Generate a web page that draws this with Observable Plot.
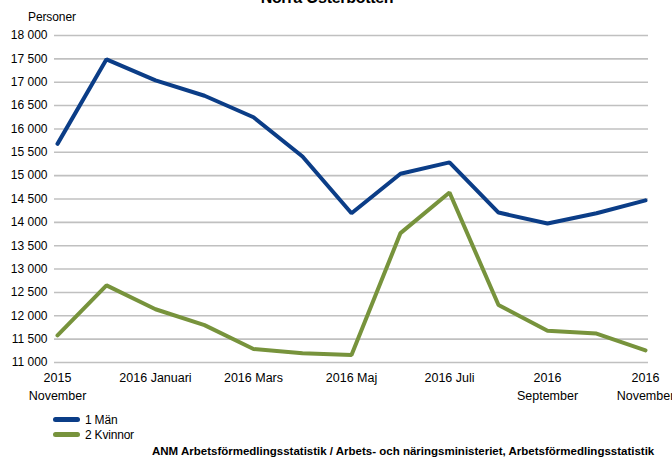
<!DOCTYPE html>
<html>
<head>
<meta charset="utf-8">
<script src="https://cdn.jsdelivr.net/npm/d3@7"></script>
<script src="https://cdn.jsdelivr.net/npm/@observablehq/plot@0.6"></script>
<style>
  body { margin: 0; background: #fff; font-family: "Liberation Sans", Arial, sans-serif; }
  #wrap { position: relative; width: 672px; height: 457px; overflow: hidden; }
  #title { position: absolute; top: -10px; left: 0; width: 654px; text-align: center; font-weight: bold; font-size: 16px; line-height: 16px; letter-spacing: -0.3px; }
  #ylabel { position: absolute; top: 10px; left: 28px; font-size: 12px; letter-spacing: -0.1px; }
  #chart { position: absolute; top: 0; left: 0; }
  #legend { position: absolute; top: 412px; left: 53px; font-size: 12px; letter-spacing: -0.2px; }
  .item { display: flex; align-items: center; height: 15px; }
  .sw { width: 27px; height: 5px; border-radius: 3px; margin-right: 5px; }
  #caption { position: absolute; top: 445px; left: 152px; font-size: 11.5px; font-weight: bold; letter-spacing: 0px; white-space: nowrap; }
</style>
</head>
<body>
<div id="wrap">
  <div id="title">Norra Österbotten</div>
  <div id="ylabel">Personer</div>
  <div id="chart"></div>
  <div id="legend"></div>
  <div id="caption">ANM Arbetsförmedlingsstatistik / Arbets- och näringsministeriet, Arbetsförmedlingsstatistik</div>
</div>
<script>
const months = ["2015-11","2015-12","2016-01","2016-02","2016-03","2016-04","2016-05","2016-06","2016-07","2016-08","2016-09","2016-10","2016-11"];
const monthLabels = ["2015\nNovember","2016 December","2016 Januari","2016 Februari","2016 Mars","2016 April","2016 Maj","2016 Juni","2016 Juli","2016 Augusti","2016\nSeptember","2016 Oktober","2016\nNovember"];
const labeledMonths = ["2015-11","2016-01","2016-03","2016-05","2016-07","2016-09","2016-11"];
const men = [15680,17490,17040,16710,16250,15410,14195,15040,15285,14210,13975,14195,14470];
const women = [11580,12650,12140,11800,11290,11200,11160,13770,14640,12230,11680,11620,11260];
const yTicks = [11000,11500,12000,12500,13000,13500,14000,14500,15000,15500,16000,16500,17000,17500,18000];
const seriesNames = ["1 Män","2 Kvinnor"];
const seriesColors = ["#0b3d87","#77933c"];

const rows = [];
months.forEach((m,i) => {
  rows.push({month: m, value: men[i], series: seriesNames[0]});
  rows.push({month: m, value: women[i], series: seriesNames[1]});
});

const fmt = d => d3.format(",")(d).replace(",", " ");

const chart = Plot.plot({
  width: 672,
  height: 400,
  marginTop: 35,
  marginBottom: 38,
  marginLeft: 54,
  marginRight: 24,
  style: {fontFamily: "Liberation Sans, Arial, sans-serif", fontSize: "12px", color: "#000", background: "transparent", overflow: "visible"},
  x: {type: "point", domain: months, padding: 0},
  y: {domain: [11000, 18000]},
  color: {domain: seriesNames, range: seriesColors},
  marks: [
    Plot.ruleY(yTicks, {stroke: "#c0c0c0", strokeWidth: 1.6}),
    Plot.axisY({ticks: yTicks, tickSize: 0, tickPadding: 7, tickFormat: fmt, label: null, fill: "#000", style: {letterSpacing: "-0.4px"}}),
    Plot.axisX({ticks: labeledMonths, tickSize: 0, tickPadding: 7, tickFormat: d => monthLabels[months.indexOf(d)], label: null, lineHeight: 1.45, fill: "#000", fontSize: 12.5}),
    Plot.line(rows, {x: "month", y: "value", z: "series", stroke: "series", strokeWidth: 4, strokeLinejoin: "miter", strokeLinecap: "round"})
  ]
});
document.getElementById("chart").appendChild(chart);

const legend = document.getElementById("legend");
seriesNames.forEach((name, i) => {
  const item = document.createElement("div");
  item.className = "item";
  const sw = document.createElement("span");
  sw.className = "sw";
  sw.style.background = seriesColors[i];
  const t = document.createElement("span");
  t.textContent = name;
  item.appendChild(sw);
  item.appendChild(t);
  legend.appendChild(item);
});
</script>
</body>
</html>
